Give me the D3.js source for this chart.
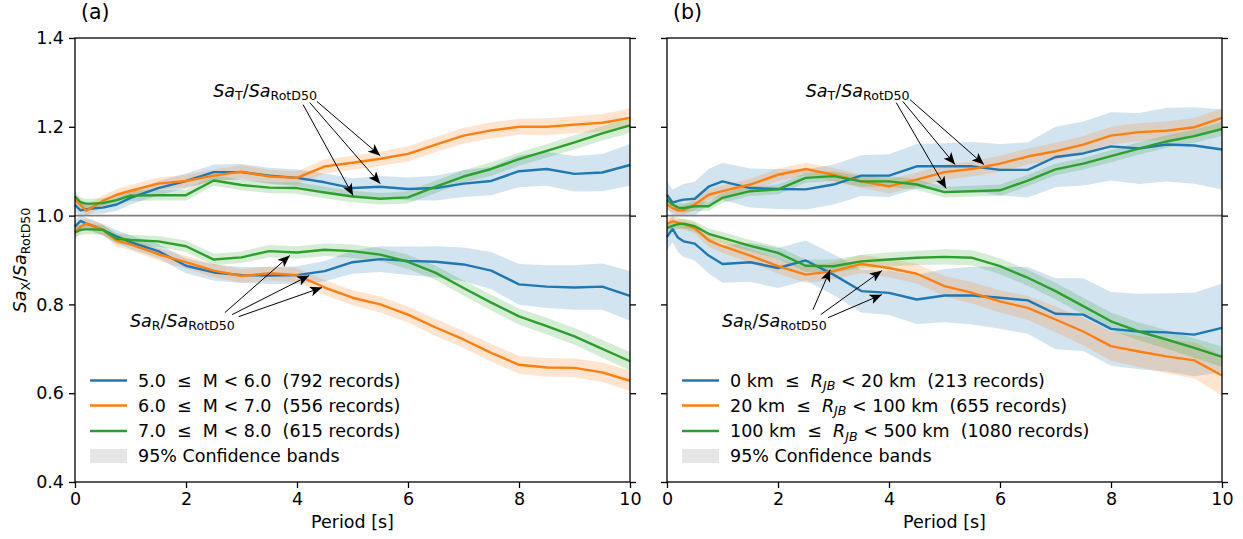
<!DOCTYPE html>
<html><head><meta charset="utf-8">
<script src="https://cdn.jsdelivr.net/npm/d3@7/dist/d3.min.js"></script>
<style>
body{margin:0;background:#fff}
text{font-family:"DejaVu Sans",sans-serif;fill:#000}
</style>
</head><body>
<svg id="chart" width="1243" height="539" xmlns="http://www.w3.org/2000/svg"></svg>
<script>
// ---------------- DATA ----------------
const periods = [0, 0.1, 0.2, 0.3, 0.5, 0.75, 1, 1.5, 2, 2.5, 3, 3.5, 4, 4.5, 5, 5.5, 6, 6.5, 7, 7.5, 8, 8.5, 9, 9.5, 10];
const xTicks = [0, 2, 4, 6, 8, 10];
const yTicks = [0.4, 0.6, 0.8, 1.0, 1.2, 1.4];

// Panel (a): magnitude bins — Sa_T / Sa_RotD50
const magT_5to6 = [1.024, 1.012, 1.014, 1.016, 1.018, 1.025, 1.040, 1.062, 1.078, 1.098, 1.098, 1.090, 1.085, 1.075, 1.062, 1.065, 1.060, 1.062, 1.072, 1.078, 1.100, 1.105, 1.094, 1.097, 1.114];
const magT_6to7 = [1.036, 1.024, 1.011, 1.018, 1.033, 1.047, 1.056, 1.072, 1.078, 1.090, 1.099, 1.088, 1.085, 1.111, 1.119, 1.128, 1.139, 1.160, 1.180, 1.192, 1.200, 1.200, 1.205, 1.209, 1.220];
const magT_7to8 = [1.043, 1.030, 1.027, 1.027, 1.028, 1.035, 1.045, 1.046, 1.046, 1.079, 1.069, 1.063, 1.062, 1.052, 1.043, 1.038, 1.041, 1.065, 1.088, 1.105, 1.127, 1.146, 1.165, 1.185, 1.203];
// Panel (a): magnitude bins — Sa_R / Sa_RotD50
const magR_5to6 = [0.975, 0.988, 0.982, 0.978, 0.968, 0.953, 0.940, 0.920, 0.887, 0.872, 0.866, 0.865, 0.866, 0.875, 0.895, 0.902, 0.898, 0.896, 0.890, 0.876, 0.845, 0.840, 0.838, 0.840, 0.819];
const magR_6to7 = [0.962, 0.975, 0.982, 0.978, 0.968, 0.944, 0.935, 0.913, 0.895, 0.876, 0.864, 0.870, 0.866, 0.838, 0.815, 0.800, 0.777, 0.748, 0.721, 0.691, 0.664, 0.658, 0.657, 0.647, 0.628];
const magR_7to8 = [0.962, 0.968, 0.969, 0.969, 0.968, 0.948, 0.945, 0.942, 0.931, 0.901, 0.906, 0.920, 0.917, 0.923, 0.920, 0.912, 0.896, 0.871, 0.837, 0.804, 0.773, 0.751, 0.728, 0.700, 0.672];
// 95% CI half-widths, panel (a)
const ciMagT_5to6 = [0.016, 0.014, 0.013, 0.013, 0.013, 0.014, 0.015, 0.016, 0.017, 0.017, 0.018, 0.018, 0.019, 0.020, 0.022, 0.024, 0.026, 0.028, 0.030, 0.032, 0.036, 0.038, 0.040, 0.042, 0.047];
const ciMagT_6to7 = [0.013, 0.012, 0.012, 0.012, 0.012, 0.013, 0.013, 0.014, 0.014, 0.014, 0.015, 0.015, 0.015, 0.016, 0.016, 0.016, 0.017, 0.017, 0.018, 0.018, 0.018, 0.019, 0.019, 0.020, 0.021];
const ciMagT_7to8 = [0.012, 0.011, 0.011, 0.011, 0.011, 0.011, 0.012, 0.012, 0.012, 0.012, 0.012, 0.012, 0.013, 0.013, 0.013, 0.013, 0.014, 0.014, 0.014, 0.015, 0.015, 0.015, 0.016, 0.016, 0.017];
const ciMagR_5to6 = [0.015, 0.014, 0.013, 0.013, 0.013, 0.014, 0.015, 0.016, 0.017, 0.018, 0.018, 0.019, 0.020, 0.023, 0.026, 0.029, 0.032, 0.035, 0.038, 0.042, 0.046, 0.048, 0.050, 0.052, 0.056];
const ciMagR_6to7 = [0.013, 0.012, 0.012, 0.012, 0.012, 0.013, 0.013, 0.014, 0.014, 0.015, 0.015, 0.016, 0.016, 0.017, 0.017, 0.018, 0.018, 0.019, 0.019, 0.020, 0.020, 0.021, 0.021, 0.022, 0.023];
const ciMagR_7to8 = [0.012, 0.011, 0.011, 0.011, 0.011, 0.012, 0.012, 0.012, 0.013, 0.013, 0.013, 0.014, 0.014, 0.014, 0.015, 0.015, 0.016, 0.016, 0.017, 0.018, 0.018, 0.019, 0.019, 0.020, 0.021];

// Panel (b): distance bins — Sa_T / Sa_RotD50
const rjbT_0to20 = [1.047, 1.029, 1.033, 1.036, 1.038, 1.065, 1.077, 1.062, 1.060, 1.059, 1.070, 1.090, 1.090, 1.111, 1.111, 1.111, 1.103, 1.103, 1.132, 1.140, 1.156, 1.151, 1.160, 1.158, 1.149];
const rjbT_20to100 = [1.025, 1.017, 1.012, 1.012, 1.025, 1.047, 1.055, 1.070, 1.092, 1.105, 1.092, 1.077, 1.066, 1.081, 1.098, 1.105, 1.117, 1.133, 1.145, 1.160, 1.180, 1.188, 1.191, 1.199, 1.220];
const rjbT_100to500 = [1.036, 1.025, 1.018, 1.017, 1.021, 1.021, 1.040, 1.055, 1.059, 1.085, 1.089, 1.077, 1.077, 1.070, 1.053, 1.055, 1.057, 1.079, 1.104, 1.117, 1.134, 1.151, 1.167, 1.179, 1.195];
// Panel (b): distance bins — Sa_R / Sa_RotD50
const rjbR_0to20 = [0.952, 0.970, 0.950, 0.942, 0.937, 0.910, 0.891, 0.895, 0.882, 0.899, 0.867, 0.830, 0.826, 0.811, 0.820, 0.820, 0.815, 0.809, 0.779, 0.777, 0.745, 0.739, 0.737, 0.732, 0.747];
const rjbR_20to100 = [0.982, 0.987, 0.984, 0.980, 0.972, 0.944, 0.931, 0.910, 0.886, 0.867, 0.875, 0.891, 0.882, 0.869, 0.841, 0.826, 0.807, 0.792, 0.766, 0.739, 0.706, 0.694, 0.683, 0.674, 0.640];
const rjbR_100to500 = [0.972, 0.977, 0.981, 0.982, 0.976, 0.959, 0.950, 0.932, 0.916, 0.887, 0.886, 0.897, 0.901, 0.905, 0.907, 0.905, 0.886, 0.860, 0.830, 0.796, 0.762, 0.739, 0.721, 0.702, 0.682];
// 95% CI half-widths, panel (b)
const ciRjbT_0to20 = [0.030, 0.030, 0.032, 0.035, 0.038, 0.040, 0.042, 0.044, 0.045, 0.045, 0.045, 0.046, 0.048, 0.050, 0.052, 0.055, 0.058, 0.062, 0.068, 0.072, 0.077, 0.080, 0.083, 0.086, 0.090];
const ciRjbT_20to100 = [0.012, 0.011, 0.011, 0.011, 0.012, 0.012, 0.013, 0.013, 0.014, 0.014, 0.015, 0.015, 0.016, 0.016, 0.017, 0.017, 0.018, 0.018, 0.019, 0.019, 0.020, 0.020, 0.021, 0.021, 0.022];
const ciRjbT_100to500 = [0.011, 0.010, 0.010, 0.010, 0.010, 0.010, 0.011, 0.011, 0.011, 0.011, 0.011, 0.012, 0.012, 0.012, 0.012, 0.012, 0.013, 0.013, 0.013, 0.013, 0.014, 0.014, 0.014, 0.015, 0.015];
const ciRjbR_0to20 = [0.030, 0.030, 0.032, 0.035, 0.038, 0.040, 0.042, 0.044, 0.045, 0.045, 0.046, 0.048, 0.050, 0.055, 0.060, 0.065, 0.070, 0.075, 0.080, 0.082, 0.083, 0.085, 0.088, 0.094, 0.100];
const ciRjbR_20to100 = [0.013, 0.012, 0.012, 0.012, 0.013, 0.014, 0.015, 0.016, 0.017, 0.018, 0.019, 0.020, 0.021, 0.022, 0.023, 0.024, 0.025, 0.027, 0.029, 0.031, 0.033, 0.035, 0.038, 0.041, 0.045];
const ciRjbR_100to500 = [0.012, 0.011, 0.011, 0.011, 0.012, 0.012, 0.013, 0.013, 0.014, 0.014, 0.015, 0.015, 0.016, 0.016, 0.017, 0.017, 0.018, 0.018, 0.019, 0.019, 0.020, 0.020, 0.021, 0.022, 0.023];

const magLabels = [["5.0", "M", "6.0", "792"], ["6.0", "M", "7.0", "556"], ["7.0", "M", "8.0", "615"]];
const rjbLabels = [["0 km", "R", "20 km", "213"], ["20 km", "R", "100 km", "655"], ["100 km", "R", "500 km", "1080"]];
const colors = ["#1f77b4", "#ff7f0e", "#2ca02c"];

// ---------------- LAYOUT ----------------
const FS = 17.5;
const yTop = 38, yBottom = 482;
const svg = d3.select("#chart");

const panels = [
  { x0: 75, x1: 630, tag: "(a)", showY: true, kind: "mag",
    T: [magT_5to6, magT_6to7, magT_7to8], ciT: [ciMagT_5to6, ciMagT_6to7, ciMagT_7to8],
    R: [magR_5to6, magR_6to7, magR_7to8], ciR: [ciMagR_5to6, ciMagR_6to7, ciMagR_7to8],
    labels: magLabels,
    annT: { text: [2.49, 1.268], from: [[4.11, 1.250], [4.23, 1.2545], [4.36, 1.257]], to: [[5.01, 1.045], [5.5, 1.072], [5.5, 1.135]] },
    annR: { text: [0.99, 0.750], from: [[2.70, 0.7815], [2.83, 0.777], [2.95, 0.7725]], to: [[3.87, 0.910], [4.22, 0.865], [4.45, 0.838]] } },
  { x0: 667, x1: 1222, tag: "(b)", showY: false, kind: "rjb",
    T: [rjbT_0to20, rjbT_20to100, rjbT_100to500], ciT: [ciRjbT_0to20, ciRjbT_20to100, ciRjbT_100to500],
    R: [rjbR_0to20, rjbR_20to100, rjbR_100to500], ciR: [ciRjbR_0to20, ciRjbR_20to100, ciRjbR_100to500],
    labels: rjbLabels,
    annT: { text: [2.50, 1.268], from: [[4.13, 1.2545], [4.25, 1.257], [4.38, 1.261]], to: [[5.03, 1.061], [5.19, 1.115], [5.71, 1.115]] },
    annR: { text: [0.99, 0.750], from: [[2.63, 0.788], [2.77, 0.777], [2.90, 0.770]], to: [[2.94, 0.878], [3.87, 0.876], [3.87, 0.822]] } }
];

// arrowhead marker
const defs = svg.append("defs");
defs.append("marker").attr("id", "arr").attr("viewBox", "0 0 12 10")
  .attr("refX", 12).attr("refY", 5).attr("markerWidth", 12).attr("markerHeight", 10)
  .attr("markerUnits", "userSpaceOnUse").attr("orient", "auto")
  .append("path").attr("d", "M0,0 L12,5 L0,10 L3,5 Z").attr("fill", "#000");

// math-ish label helper
function mathText(g, x, y, parts, size, extra) {
  const t = g.append("text").attr("x", x).attr("y", y).attr("font-size", size).attr("xml:space", "preserve");
  if (extra) extra(t);
  let shifted = 0;
  parts.forEach(p => {
    const ts = t.append("tspan").text(p.t);
    const target = p.sub ? size * 0.22 : 0;
    if (target !== shifted) { ts.attr("dy", target - shifted); shifted = target; }
    if (p.sub) ts.attr("font-size", size * 0.72);
    if (p.it) ts.attr("font-style", "italic");
  });
  return t;
}
const saPart = (sub) => [{ t: "Sa", it: true }, { t: sub, sub: true }, { t: "/" }, { t: "Sa", it: true }, { t: "RotD50", sub: true }];

panels.forEach(P => {
  const x = d3.scaleLinear().domain([0, 10]).range([P.x0, P.x1]);
  const y = d3.scaleLinear().domain([0.4, 1.4]).range([yBottom, yTop]);
  const g = svg.append("g");

  const area = d3.area().x(d => x(d.p)).y0(d => y(d.v - d.c)).y1(d => y(d.v + d.c));
  const line = d3.line().x(d => x(d.p)).y(d => y(d.v));
  const pts = (vals, ci) => periods.map((p, i) => ({ p, v: vals[i], c: ci[i] }));

  // bands
  [0, 1, 2].forEach(i => {
    g.append("path").attr("d", area(pts(P.T[i], P.ciT[i]))).attr("fill", colors[i]).attr("fill-opacity", 0.2);
    g.append("path").attr("d", area(pts(P.R[i], P.ciR[i]))).attr("fill", colors[i]).attr("fill-opacity", 0.2);
  });
  // lines
  [0, 1, 2].forEach(i => {
    g.append("path").attr("d", line(pts(P.T[i], P.ciT[i]))).attr("fill", "none").attr("stroke", colors[i]).attr("stroke-width", 2.4).attr("stroke-linejoin", "round");
    g.append("path").attr("d", line(pts(P.R[i], P.ciR[i]))).attr("fill", "none").attr("stroke", colors[i]).attr("stroke-width", 2.4).attr("stroke-linejoin", "round");
  });

  // reference line at 1.0
  g.append("line").attr("x1", x(0)).attr("x2", x(10)).attr("y1", y(1)).attr("y2", y(1))
    .attr("stroke", "#808080").attr("stroke-width", 1.6);

  // axes
  const styleAxis = a => {
    a.select(".domain").remove();
    a.selectAll(".tick line").attr("stroke", "#000").attr("stroke-width", 1.3);
    a.selectAll(".tick text").attr("font-size", FS).attr("font-family", "DejaVu Sans").attr("fill", "#000");
  };
  g.append("g").attr("transform", `translate(${P.x0},0)`)
    .call(d3.axisLeft(y).tickValues(yTicks).tickSize(6).tickPadding(5).tickFormat(P.showY ? d3.format(".1f") : () => ""))
    .call(styleAxis);
  g.append("g").attr("transform", `translate(${P.x1},0)`)
    .call(d3.axisRight(y).tickValues(yTicks).tickSize(6).tickFormat(() => ""))
    .call(styleAxis);
  g.append("g").attr("transform", `translate(0,${yBottom})`)
    .call(d3.axisBottom(x).tickValues(xTicks).tickSize(6).tickPadding(5).tickFormat(d3.format("d")))
    .call(styleAxis);
  g.append("rect").attr("x", P.x0).attr("y", yTop).attr("width", P.x1 - P.x0).attr("height", yBottom - yTop)
    .attr("fill", "none").attr("stroke", "#000").attr("stroke-width", 1.3);

  // x label & panel tag
  g.append("text").attr("x", (P.x0 + P.x1) / 2).attr("y", 528).attr("text-anchor", "middle").attr("font-size", FS).text("Period [s]");
  g.append("text").attr("x", P.x0 + 6).attr("y", 19).attr("font-size", 20.5).text(P.tag);

  // annotations
  [P.annT, P.annR].forEach((A, k) => {
    mathText(g, x(A.text[0]), y(A.text[1]), saPart(k === 0 ? "T" : "R"), FS);
    A.from.forEach((f, j) => {
      const tt = A.to[j];
      g.append("line").attr("x1", x(f[0])).attr("y1", y(f[1])).attr("x2", x(tt[0])).attr("y2", y(tt[1]))
        .attr("stroke", "#000").attr("stroke-width", 1).attr("marker-end", "url(#arr)");
    });
  });

  // legend
  const lx = P.x0 + 15, rowY = [380.5, 405.5, 431, 456];
  P.labels.forEach((L, i) => {
    g.append("line").attr("x1", lx).attr("x2", lx + 37).attr("y1", rowY[i]).attr("y2", rowY[i])
      .attr("stroke", colors[i]).attr("stroke-width", 2.4);
    let parts;
    if (P.kind === "mag") {
      parts = [{ t: `${L[0]}  ≤  ${L[1]} < ${L[2]}  (${L[3]} records)` }];
    } else {
      parts = [{ t: `${L[0]}  ≤  ` }, { t: "R", it: true }, { t: "JB", it: true, sub: true }, { t: ` < ${L[2]}  (${L[3]} records)` }];
    }
    mathText(g, lx + 48, rowY[i] + 6, parts, FS);
  });
  g.append("rect").attr("x", lx).attr("y", 449).attr("width", 37).attr("height", 14).attr("fill", "#808080").attr("fill-opacity", 0.2);
  g.append("text").attr("x", lx + 48).attr("y", rowY[3] + 6).attr("font-size", FS).text("95% Confidence bands");
});

// y label
mathText(svg, 0, 0, saPart("X"), FS, t => t.attr("transform", "translate(26,260) rotate(-90)").attr("text-anchor", "middle"));
</script>
</body></html>
